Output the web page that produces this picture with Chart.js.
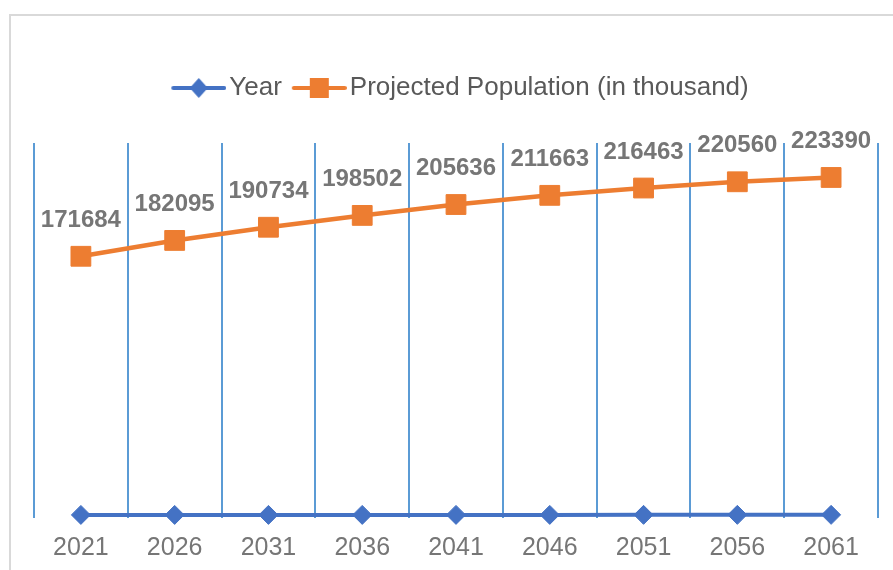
<!DOCTYPE html>
<html>
<head>
<meta charset="utf-8">
<script src="https://cdn.jsdelivr.net/npm/chart.js@4.4.0/dist/chart.umd.min.js"></script>
<style>
  body { margin: 0; background: #fff; overflow: hidden; }
  #wrap { position: relative; width: 893px; height: 570px; overflow: hidden; }
  #frame { position: absolute; left: 9px; top: 14px; width: 1000px; height: 1000px; border: 2px solid #d9d9d9; }
  #myChart { position: absolute; left: 0; top: 0; }
</style>
</head>
<body>
<div id="wrap">
  <div id="frame"></div>
  <canvas id="myChart" width="893" height="570"></canvas>
</div>
<script>
const anni = ['2021', '2026', '2031', '2036', '2041', '2046', '2051', '2056', '2061'];
const valoriAnno = [2021, 2026, 2031, 2036, 2041, 2046, 2051, 2056, 2061];
const popolazione = [171684, 182095, 190734, 198502, 205636, 211663, 216463, 220560, 223390];

const blu = '#4472c4';
const arancio = '#ed7d31';
const font = '"Liberation Sans", Arial, sans-serif';

// piccolo disegno per la legenda: linea con il marcatore al centro
function iconaLegenda(colore, forma){
    const c = document.createElement('canvas');
    c.width = 65;
    c.height = 22;
    const g = c.getContext('2d');
    g.strokeStyle = colore;
    g.fillStyle = colore;
    g.lineWidth = 4;
    g.lineCap = 'round';
    g.beginPath();
    g.moveTo(12, 11);
    g.lineTo(63, 11);
    g.stroke();
    const cx = 37.5;
    g.beginPath();
    if (forma === 'rombo') {
        g.moveTo(cx, 1); g.lineTo(cx + 9, 11); g.lineTo(cx, 21); g.lineTo(cx - 9, 11);
    } else {
        g.rect(cx - 9.5, 1, 19, 20);
    }
    g.closePath();
    g.fill();
    return c;
}

const icone = [iconaLegenda(blu, 'rombo'), iconaLegenda(arancio, 'quadrato')];

const etichetteDati = {
    id: 'etichetteDati',
    afterDatasetsDraw(chart){
        const g = chart.ctx;
        const meta = chart.getDatasetMeta(1);
        g.save();
        g.font = 'bold 24px ' + font;
        g.fillStyle = '#767676';
        g.textAlign = 'center';
        g.textBaseline = 'middle';
        meta.data.forEach((p, i) => {
            g.fillText(String(popolazione[i]), p.x, p.y - 36);
        });
        g.restore();
    }
};

const ctx = document.getElementById('myChart');

new Chart(ctx, {
    type: 'line',
    data: {
        labels: anni,
        datasets: [{
            label: 'Year',
            data: valoriAnno,
            borderColor: blu,
            backgroundColor: blu,
            borderWidth: 4,
            pointStyle: 'rectRot',
            pointRadius: 9.5,
            pointBorderWidth: 1,
            pointBackgroundColor: blu,
            pointBorderColor: blu,
            tension: 0,
            clip: false
        }, {
            label: 'Projected Population (in thousand)',
            data: popolazione,
            borderColor: arancio,
            backgroundColor: arancio,
            borderWidth: 4.5,
            pointStyle: 'rect',
            pointRadius: 14,
            pointBorderWidth: 1,
            pointBackgroundColor: arancio,
            pointBorderColor: arancio,
            tension: 0,
            clip: false
        }]
    },
    options: {
        responsive: false,
        animation: false,
        layout: { padding: { left: 34, right: 7, top: 65, bottom: 7 } },
        plugins: {
            legend: {
                position: 'top',
                weight: 3000,
                labels: {
                    usePointStyle: true,
                    pointStyleWidth: 45,
                    padding: 10,
                    color: '#595959',
                    font: { family: font, size: 26 },
                    generateLabels(chart){
                        const items = Chart.defaults.plugins.legend.labels.generateLabels(chart);
                        items.forEach((it, i) => { it.pointStyle = icone[i]; });
                        return items;
                    }
                }
            },
            title: {
                display: true,
                text: '',
                weight: 500,
                font: { size: 10, lineHeight: 1 },
                padding: { top: 0, bottom: 22 }
            },
            tooltip: { enabled: false }
        },
        scales: {
            x: {
                offset: true,
                border: { display: false },
                grid: {
                    offset: true,
                    color: '#5b9bd5',
                    lineWidth: 2,
                    drawTicks: false
                },
                ticks: {
                    color: '#767676',
                    padding: 15,
                    font: { family: font, size: 25 }
                },
                afterFit(scale){
                    scale.height = 45;
                }
            },
            y: {
                display: false,
                min: 0,
                max: 246000
            }
        }
    },
    plugins: [etichetteDati]
});
</script>
</body>
</html>
